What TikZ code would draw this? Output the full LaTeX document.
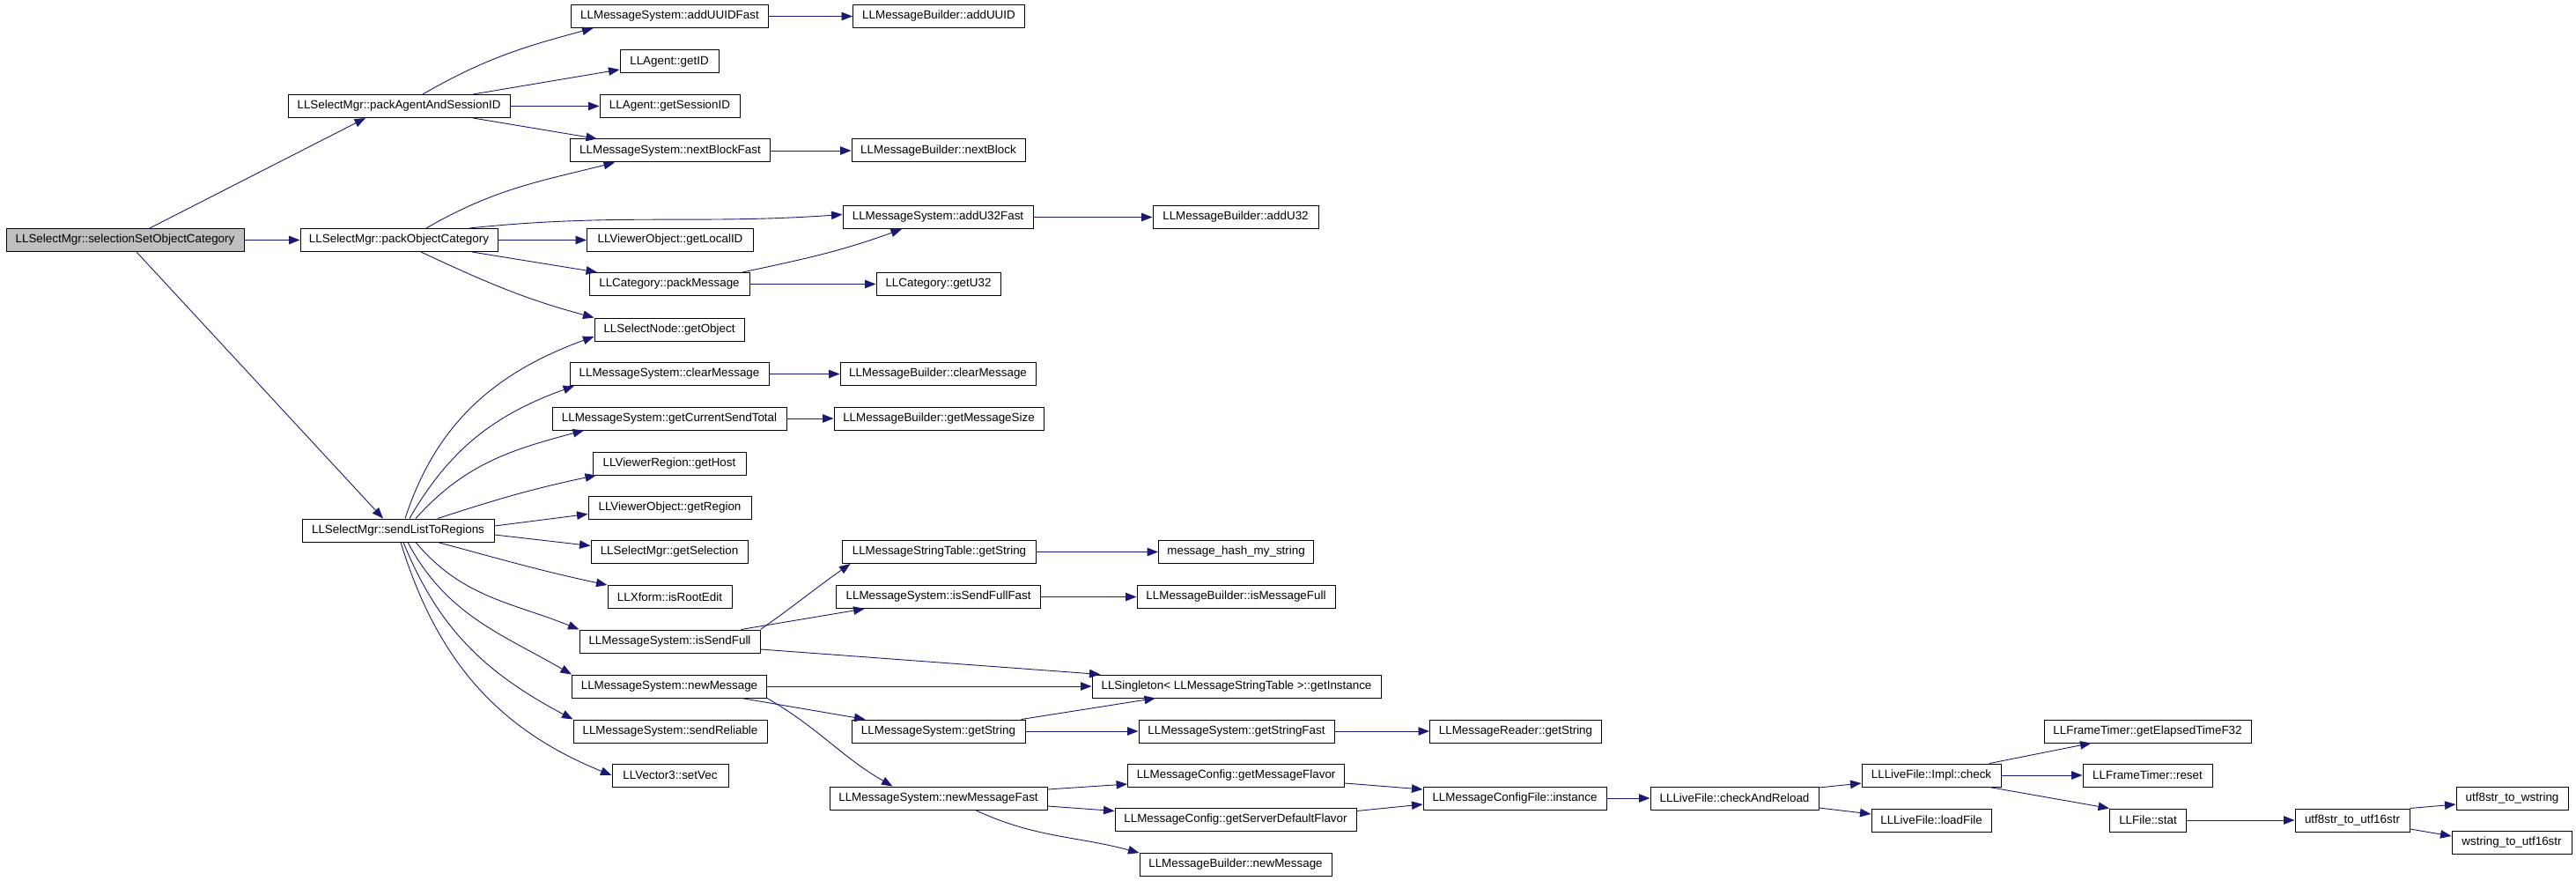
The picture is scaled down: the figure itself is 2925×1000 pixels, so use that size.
\documentclass[tikz,border=0pt]{standalone}
\usepackage{fontspec}
\setmainfont{Liberation Sans}
\usepackage{tikz}
\usetikzlibrary{arrows.meta,positioning}
\definecolor{CallNavy}{HTML}{191970}
\definecolor{RootGray}{HTML}{BFBFBF}

\begin{document}
\begin{tikzpicture}[
          x=1pt, y=1pt,
          fnbox/.style={rectangle, draw=black, line width=1pt, fill=white, minimum height=26pt, inner sep=0pt, font=\fontsize{13.4pt}{15pt}\selectfont},
          callarrow/.style={draw=CallNavy, line width=0.9pt, -{Triangle[length=12.5pt,width=9.5pt]}}
        ]
          \useasboundingbox (0,0) rectangle (2925,-1000);

          \node[fnbox, fill=RootGray, minimum width=270pt] (selCat) at (142,-272.5) {LLSelectMgr::selectionSetObjectCategory};

          \node[fnbox, minimum width=252pt] (packAgent) at (453,-120.5) {LLSelectMgr::packAgentAndSessionID};
          \node[fnbox, minimum width=224pt] (packObj) at (453,-272.5) {LLSelectMgr::packObjectCategory};
          \node[fnbox, minimum width=218pt] (sendList) at (452,-602) {LLSelectMgr::sendListToRegions};

          \node[fnbox, minimum width=224pt] (addUUIDFast) at (760.5,-18.5) {LLMessageSystem::addUUIDFast};
          \node[fnbox, minimum width=112pt] (getID) at (760,-70) {LLAgent::getID};
          \node[fnbox, minimum width=159pt] (getSessionID) at (760.5,-120.5) {LLAgent::getSessionID};
          \node[fnbox, minimum width=227pt] (nextBlockFast) at (761,-171) {LLMessageSystem::nextBlockFast};
          \node[fnbox, minimum width=189pt] (getLocalID) at (761,-272.5) {LLViewerObject::getLocalID};
          \node[fnbox, minimum width=182pt] (packMessage) at (760,-322.5) {LLCategory::packMessage};
          \node[fnbox, minimum width=170pt] (getObject) at (760,-374) {LLSelectNode::getObject};
          \node[fnbox, minimum width=226pt] (clearMessage) at (760,-424.5) {LLMessageSystem::clearMessage};
          \node[fnbox, minimum width=266pt] (sendTotal) at (760,-475) {LLMessageSystem::getCurrentSendTotal};
          \node[fnbox, minimum width=174pt] (getHost) at (760,-526) {LLViewerRegion::getHost};
          \node[fnbox, minimum width=185pt] (getRegion) at (760.5,-576.5) {LLViewerObject::getRegion};
          \node[fnbox, minimum width=178pt] (getSelection) at (760,-626.5) {LLSelectMgr::getSelection};
          \node[fnbox, minimum width=141pt] (isRootEdit) at (760.5,-677.5) {LLXform::isRootEdit};
          \node[fnbox, minimum width=205pt] (isSendFull) at (760.5,-728) {LLMessageSystem::isSendFull};
          \node[fnbox, minimum width=221pt] (newMessage) at (760,-779) {LLMessageSystem::newMessage};
          \node[fnbox, minimum width=220pt] (sendReliable) at (761,-830) {LLMessageSystem::sendReliable};
          \node[fnbox, minimum width=132pt] (setVec) at (761,-880) {LLVector3::setVec};

          \node[fnbox, minimum width=195pt] (addUUID) at (1066,-18.5) {LLMessageBuilder::addUUID};
          \node[fnbox, minimum width=197pt] (nextBlock) at (1065.5,-171) {LLMessageBuilder::nextBlock};
          \node[fnbox, minimum width=216pt] (addU32Fast) at (1065,-246.5) {LLMessageSystem::addU32Fast};
          \node[fnbox, minimum width=141pt] (getU32) at (1065.5,-322.5) {LLCategory::getU32};
          \node[fnbox, minimum width=222pt] (clearBuilder) at (1065,-424.5) {LLMessageBuilder::clearMessage};
          \node[fnbox, minimum width=238pt] (msgSize) at (1066,-475) {LLMessageBuilder::getMessageSize};
          \node[fnbox, minimum width=220pt] (tableString) at (1066.5,-626.5) {LLMessageStringTable::getString};
          \node[fnbox, minimum width=232pt] (isSendFullFast) at (1065.6,-677.5) {LLMessageSystem::isSendFullFast};
          \node[fnbox, minimum width=197pt] (sysString) at (1065.5,-830) {LLMessageSystem::getString};
          \node[fnbox, minimum width=247pt] (newMessageFast) at (1065.5,-906) {LLMessageSystem::newMessageFast};

          \node[fnbox, minimum width=188pt] (addU32) at (1403,-246.5) {LLMessageBuilder::addU32};
          \node[fnbox, minimum width=176pt] (hashString) at (1403.6,-626.5) {message\_hash\_my\_string};
          \node[fnbox, minimum width=225pt] (isMessageFull) at (1403.5,-677.5) {LLMessageBuilder::isMessageFull};
          \node[fnbox, minimum width=328pt] (getInstance) at (1404,-779) {LLSingleton< LLMessageStringTable >::getInstance};
          \node[fnbox, minimum width=222pt] (stringFast) at (1404,-830) {LLMessageSystem::getStringFast};
          \node[fnbox, minimum width=246pt] (msgFlavor) at (1403.6,-880) {LLMessageConfig::getMessageFlavor};
          \node[fnbox, minimum width=274pt] (serverFlavor) at (1403,-930.5) {LLMessageConfig::getServerDefaultFlavor};
          \node[fnbox, minimum width=218pt] (builderNew) at (1403,-981.5) {LLMessageBuilder::newMessage};

          \node[fnbox, minimum width=195pt] (readerString) at (1721,-830) {LLMessageReader::getString};
          \node[fnbox, minimum width=208pt] (configInst) at (1720,-906) {LLMessageConfigFile::instance};
          \node[fnbox, minimum width=191pt] (checkReload) at (1969.5,-906) {LLLiveFile::checkAndReload};
          \node[fnbox, minimum width=158pt] (implCheck) at (2193,-880) {LLLiveFile::Impl::check};
          \node[fnbox, minimum width=136pt] (loadFile) at (2193,-931) {LLLiveFile::loadFile};
          \node[fnbox, minimum width=235pt] (elapsed) at (2438.5,-830) {LLFrameTimer::getElapsedTimeF32};
          \node[fnbox, minimum width=147pt] (timerReset) at (2438.5,-880) {LLFrameTimer::reset};
          \node[fnbox, minimum width=87pt] (fileStat) at (2439,-931) {LLFile::stat};
          \node[fnbox, minimum width=130pt] (toUtf16) at (2671,-931) {utf8str\_to\_utf16str};
          \node[fnbox, minimum width=127pt] (toWstring) at (2852.5,-906) {utf8str\_to\_wstring};
          \node[fnbox, minimum width=136pt] (wToUtf16) at (2852,-956) {wstring\_to\_utf16str};

          \draw[callarrow] ([xshift=28pt]selCat.north) -- ([xshift=-38pt]packAgent.south);
          \draw[callarrow] (selCat.east) -- (packObj.west);
          \draw[callarrow] ([xshift=13pt]selCat.south) -- ([xshift=-17pt]sendList.north);

          \draw[callarrow] ([xshift=27pt]packAgent.north) to[out=30,in=195] ([xshift=-87pt]addUUIDFast.south);
          \draw[callarrow] ([xshift=84pt]packAgent.north) -- ([yshift=-9pt]getID.west);
          \draw[callarrow] (packAgent.east) -- (getSessionID.west);
          \draw[callarrow] ([xshift=84pt]packAgent.south) -- ([xshift=-83pt]nextBlockFast.north);

          \draw[callarrow] ([xshift=31pt]packObj.north) to[out=30,in=194] ([xshift=-63pt]nextBlockFast.south);
          \draw[callarrow] ([xshift=80pt]packObj.north) to[out=6,in=184] ([yshift=3pt]addU32Fast.west);
          \draw[callarrow] (packObj.east) -- (getLocalID.west);
          \draw[callarrow] ([xshift=83pt]packObj.south) -- ([xshift=-82pt]packMessage.north);
          \draw[callarrow] ([xshift=25pt]packObj.south) to[out=-25,in=165] (getObject.north west);

          \draw[callarrow] ([xshift=83pt]packMessage.north) to[out=12,in=-160] ([xshift=-41pt]addU32Fast.south);
          \draw[callarrow] (packMessage.east) -- (getU32.west);
          \draw[callarrow] (addUUIDFast.east) -- (addUUID.west);
          \draw[callarrow] (nextBlockFast.east) -- (nextBlock.west);
          \draw[callarrow] (addU32Fast.east) -- (addU32.west);

          \draw[callarrow] ([xshift=8pt]sendList.north) to[out=72,in=200] ([yshift=-8pt]getObject.west);
          \draw[callarrow] ([xshift=13pt]sendList.north) to[out=60,in=200] ([xshift=-108pt]clearMessage.south);
          \draw[callarrow] ([xshift=20pt]sendList.north) to[out=48,in=195] ([xshift=-97pt]sendTotal.south);
          \draw[callarrow] ([xshift=45pt]sendList.north) to[out=18,in=192] ([xshift=-83pt]getHost.south);
          \draw[callarrow] ([yshift=5pt]sendList.east) -- ([yshift=-7pt]getRegion.west);
          \draw[callarrow] ([yshift=-5pt]sendList.east) -- ([yshift=7pt]getSelection.west);
          \draw[callarrow] ([xshift=45pt]sendList.south) to[out=-15,in=168] (isRootEdit.north west);
          \draw[callarrow] ([xshift=20pt]sendList.south) to[out=-50,in=158] (isSendFull.north west);
          \draw[callarrow] ([xshift=11pt]sendList.south) to[out=-62,in=150] (newMessage.north west);
          \draw[callarrow] ([xshift=6pt]sendList.south) to[out=-68,in=152] (sendReliable.north west);
          \draw[callarrow] ([xshift=3pt]sendList.south) to[out=-73,in=158] (setVec.west);

          \draw[callarrow] (clearMessage.east) -- (clearBuilder.west);
          \draw[callarrow] (sendTotal.east) -- (msgSize.west);

          \draw[callarrow] (isSendFull.north east) to[out=35,in=215] ([xshift=-101pt]tableString.south);
          \draw[callarrow] ([xshift=81pt]isSendFull.north) -- ([xshift=-84pt]isSendFullFast.south);
          \draw[callarrow] ([yshift=-9pt]isSendFull.east) -- ([xshift=10pt]getInstance.north west);
          \draw[callarrow] (isSendFullFast.east) -- (isMessageFull.west);
          \draw[callarrow] (tableString.east) -- (hashString.west);

          \draw[callarrow] (newMessage.east) -- (getInstance.west);
          \draw[callarrow] ([xshift=82pt]newMessage.south) -- ([xshift=-83pt]sysString.north);
          \draw[callarrow] (newMessage.south east) to[out=-30,in=150] ([xshift=-52pt]newMessageFast.north);
          \draw[callarrow] ([xshift=-5pt]sysString.north east) -- ([xshift=-92pt]getInstance.south);
          \draw[callarrow] (sysString.east) -- (stringFast.west);
          \draw[callarrow] (stringFast.east) -- (readerString.west);

          \draw[callarrow] ([yshift=10pt]newMessageFast.east) -- ([yshift=-10pt]msgFlavor.west);
          \draw[callarrow] ([yshift=-9pt]newMessageFast.east) -- ([yshift=10pt]serverFlavor.west);
          \draw[callarrow] ([xshift=42pt]newMessageFast.south) to[out=-25,in=165] (builderNew.north west);
          \draw[callarrow] ([yshift=-9pt]msgFlavor.east) -- ([yshift=10pt]configInst.west);
          \draw[callarrow] ([yshift=10pt]serverFlavor.east) -- ([yshift=-7pt]configInst.west);

          \draw[callarrow] (configInst.east) -- (checkReload.west);
          \draw[callarrow] ([yshift=12pt]checkReload.east) -- ([yshift=-9pt]implCheck.west);
          \draw[callarrow] ([yshift=-11pt]checkReload.east) -- ([yshift=7pt]loadFile.west);
          \draw[callarrow] ([xshift=66pt]implCheck.north) -- ([xshift=-64pt]elapsed.south);
          \draw[callarrow] (implCheck.east) -- (timerReset.west);
          \draw[callarrow] ([xshift=66pt]implCheck.south) -- (fileStat.north west);
          \draw[callarrow] (fileStat.east) -- (toUtf16.west);
          \draw[callarrow] (toUtf16.north east) -- ([yshift=-7pt]toWstring.west);
          \draw[callarrow] ([yshift=-10pt]toUtf16.east) -- ([yshift=7pt]wToUtf16.west);
        \end{tikzpicture}
\end{document}
